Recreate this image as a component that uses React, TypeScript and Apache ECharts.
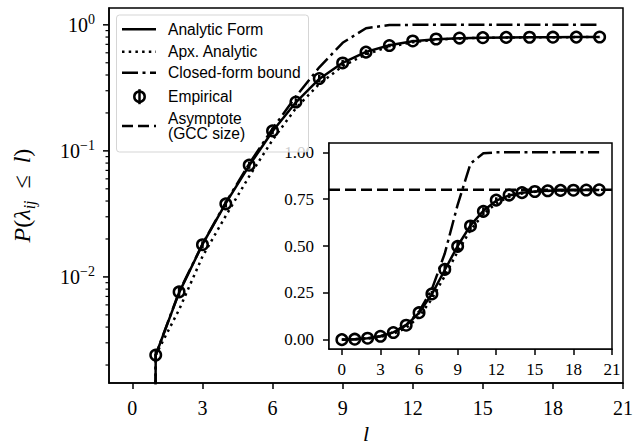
import React, { useEffect, useRef } from 'react';
import * as echarts from 'echarts';

// ---------------- data ----------------
const L = [0, 1, 2, 3, 4, 5, 6, 7, 8, 9, 10, 11, 12, 13, 14, 15, 16, 17, 18, 19, 20];
const analytic = [0, 0.0024, 0.0075, 0.0181, 0.0385, 0.0765, 0.143, 0.243, 0.372, 0.5, 0.61, 0.688, 0.742, 0.77, 0.784, 0.791, 0.795, 0.797, 0.798, 0.799, 0.799];
const apxAnalytic = [0, 0.0024, 0.0055, 0.0145, 0.0306, 0.0627, 0.122, 0.218, 0.34, 0.47, 0.585, 0.67, 0.728, 0.762, 0.78, 0.789, 0.794, 0.796, 0.798, 0.799, 0.799];
const closedFormBound = [0, 0.0024, 0.0076, 0.0182, 0.039, 0.079, 0.15, 0.27, 0.46, 0.72, 0.94, 0.995, 1, 1, 1, 1, 1, 1, 1, 1, 1];
const empirical = [0, 0.0024, 0.0076, 0.018, 0.038, 0.077, 0.144, 0.244, 0.375, 0.498, 0.607, 0.685, 0.745, 0.772, 0.785, 0.791, 0.795, 0.797, 0.798, 0.799, 0.8];
const empiricalErr = [0, 0.0002, 0.0006, 0.0012, 0.0025, 0.005, 0.009, 0.016, 0.025, 0.03, 0.03, 0.022, 0.015, 0.01, 0.006, 0.004, 0.003, 0.002, 0.002, 0.001, 0.001];
const gccSize = 0.8;
const xRange = [-1, 21];
const xTicks = [0, 3, 6, 9, 12, 15, 18, 21];
const logTicks = [0.01, 0.1, 1];
const logMinorTicks = [0.002, 0.003, 0.004, 0.005, 0.006, 0.007, 0.008, 0.009, 0.02, 0.03, 0.04, 0.05, 0.06, 0.07, 0.08, 0.09, 0.2, 0.3, 0.4, 0.5, 0.6, 0.7, 0.8, 0.9];
const insetYTicks = [0, 0.25, 0.5, 0.75, 1.0];
const legendNames = ['Analytic Form', 'Apx. Analytic', 'Closed-form bound', 'Empirical', 'Asymptote\n(GCC size)'];

// ---------------- styles ----------------
const SERIF = "'Liberation Serif', 'DejaVu Serif', serif";
const SANS = "'Liberation Sans', Arial, sans-serif";
const LW = 2.5;
const DOTTED = [2.5, 4.2];
const DASHDOT = [16, 4.5, 3, 4.5];
const DASHED = [11, 5];
const MAJOR_LEN = 6;
const MINOR_LEN = 3.5;

const logFloor = (v: number) => (v > 0 ? v : 1e-30);

function lineSeries(name: string, vals: number[], dash: any, xi: number, yi: number, log: boolean) {
  return {
    name,
    type: 'line',
    xAxisIndex: xi,
    yAxisIndex: yi,
    data: L.map((l, i) => [l, log ? logFloor(vals[i]) : vals[i]]),
    showSymbol: false,
    symbol: 'none',
    clip: true,
    lineStyle: { color: '#000', width: LW, type: dash, cap: 'butt' },
    z: 3,
  };
}

function errSeries(xi: number, yi: number, log: boolean) {
  const d = L.map((l, i) => [l, empirical[i], empiricalErr[i]]).filter((p) => !log || p[1] > 0);
  return {
    type: 'custom',
    xAxisIndex: xi,
    yAxisIndex: yi,
    data: d,
    encode: { x: 0, y: 1 },
    clip: true,
    z: 4,
    renderItem: (params: any, api: any) => {
      const x = api.value(0);
      const y = api.value(1);
      const e = api.value(2);
      const p1 = api.coord([x, y - e]);
      const p2 = api.coord([x, y + e]);
      return {
        type: 'line',
        shape: { x1: p1[0], y1: p1[1], x2: p2[0], y2: p2[1] },
        style: { stroke: '#000', lineWidth: LW },
      };
    },
  };
}

function scatterSeries(xi: number, yi: number, log: boolean) {
  return {
    name: 'Empirical',
    type: 'scatter',
    xAxisIndex: xi,
    yAxisIndex: yi,
    data: L.map((l, i) => [l, empirical[i]]).filter((p) => !log || p[1] > 0),
    symbol: 'circle',
    symbolSize: 10.5,
    clip: true,
    itemStyle: { color: 'rgba(0,0,0,0)', borderColor: '#000', borderWidth: LW, opacity: 1 },
    z: 5,
  };
}

// log-axis ticks (major + minor), placed through the axis scale
function logTickSeries() {
  const d = [
    ...logTicks.map((v) => [xRange[0], v, MAJOR_LEN]),
    ...logMinorTicks.map((v) => [xRange[0], v, MINOR_LEN]),
  ];
  return {
    type: 'custom',
    xAxisIndex: 0,
    yAxisIndex: 0,
    data: d,
    encode: { x: 0, y: 1 },
    clip: false,
    silent: true,
    z: 6,
    renderItem: (params: any, api: any) => {
      const c = api.coord([api.value(0), api.value(1)]);
      const len = api.value(2);
      return {
        type: 'line',
        shape: { x1: c[0] - len, y1: c[1], x2: c[0], y2: c[1] },
        style: { stroke: '#000', lineWidth: len > 5 ? 1.5 : 1.2 },
      };
    },
  };
}

function buildLegend() {
  const rowsY = [29.3, 51.7, 72.7, 96.7, 126];
  const dashes: any[] = ['solid', DOTTED, DASHDOT, null, DASHED];
  const els: any[] = [
    {
      type: 'rect',
      shape: { x: 116.5, y: 15, width: 192, height: 137, r: 3 },
      style: { fill: 'rgba(255,255,255,0.8)', stroke: '#d5d5d5', lineWidth: 1 },
      z: 1,
    },
  ];
  legendNames.forEach((name, i) => {
    const y = rowsY[i];
    if (dashes[i] === null) {
      els.push({ type: 'circle', shape: { cx: 139.5, cy: y, r: 5.2 }, style: { fill: 'none', stroke: '#000', lineWidth: LW }, z: 6 });
      els.push({ type: 'line', shape: { x1: 139.5, y1: y - 7.5, x2: 139.5, y2: y + 7.5 }, style: { stroke: '#000', lineWidth: LW }, z: 6 });
    } else {
      els.push({
        type: 'line',
        shape: { x1: 122, y1: y, x2: 156, y2: y },
        style: { stroke: '#000', lineWidth: LW, lineDash: dashes[i] === 'solid' ? null : dashes[i] },
        z: 6,
      });
    }
    els.push({
      type: 'text',
      x: 168,
      y,
      z: 6,
      style: {
        text: name,
        fill: '#000',
        font: `15.6px ${SANS}`,
        fontSize: 15.6,
        fontFamily: SANS,
        lineHeight: 15.3,
        textVerticalAlign: 'middle',
        verticalAlign: 'middle',
        textAlign: 'left',
        align: 'left',
      },
    });
  });
  return els;
}

function supLabel(v: number) {
  const e = Math.round(Math.log10(v));
  return `{b|10}{e|${e < 0 ? '\u2212' + Math.abs(e) : e}}`;
}

export default function App() {
  const ref = useRef<HTMLDivElement>(null);
  useEffect(() => {
    document.body.style.margin = '0';
    const chart = echarts.init(ref.current!, null, { renderer: 'svg' });
    const tickStyle = { color: '#000', width: 1.5 };
    const option: any = {
      animation: false,
      backgroundColor: '#fff',
      grid: [
        { left: 109, top: 8, width: 514, height: 375, show: true, borderColor: '#000', borderWidth: 1.5, backgroundColor: 'rgba(0,0,0,0)', containLabel: false, outerBoundsMode: 'none' },
        { left: 329, top: 143, width: 283, height: 206, show: true, borderColor: '#000', borderWidth: 1.5, backgroundColor: '#fff', containLabel: false, outerBoundsMode: 'none', z: 2 },
      ],
      xAxis: [
        {
          gridIndex: 0, type: 'value', min: xRange[0], max: xRange[1],
          axisLine: { show: true, onZero: false, lineStyle: tickStyle },
          splitLine: { show: false },
          axisTick: { show: true, customValues: xTicks, length: MAJOR_LEN, lineStyle: tickStyle },
          axisLabel: { customValues: xTicks, color: '#000', fontFamily: SERIF, fontSize: 20, margin: 15 },
          name: 'l', nameLocation: 'middle', nameGap: 39,
          nameTextStyle: { color: '#000', fontFamily: SERIF, fontStyle: 'italic', fontSize: 22 },
        },
        {
          gridIndex: 1, type: 'value', min: xRange[0], max: xRange[1],
          axisLine: { show: true, onZero: false, lineStyle: tickStyle },
          splitLine: { show: false },
          axisTick: { show: true, customValues: xTicks, length: MAJOR_LEN, lineStyle: tickStyle },
          axisLabel: { customValues: xTicks, color: '#000', fontFamily: SERIF, fontSize: 17, margin: 12 },
        },
      ],
      yAxis: [
        {
          gridIndex: 0, type: 'log', logBase: 10, min: 0.00144, max: 1.36,
          axisLine: { show: true, onZero: false, lineStyle: tickStyle },
          splitLine: { show: false },
          minorTick: { show: false },
          axisTick: { show: false },
          axisLabel: {
            customValues: logTicks, margin: 14, formatter: (v: number) => supLabel(v),
            rich: {
              b: { fontFamily: SERIF, fontSize: 20, color: '#000', lineHeight: 24 },
              e: { fontFamily: SERIF, fontSize: 14, color: '#000', verticalAlign: 'top' },
            },
          },
          name: '{i|P}{r|(}{i|λ}{s|ij}{r|  ≤  }{i|l}{r|)}',
          nameLocation: 'middle', nameGap: 72,
          nameTextStyle: {
            color: '#000', fontFamily: SERIF, fontSize: 24,
            rich: {
              i: { fontFamily: SERIF, fontStyle: 'italic', fontSize: 24, color: '#000', lineHeight: 30 },
              r: { fontFamily: SERIF, fontSize: 24, color: '#000', lineHeight: 30 },
              s: { fontFamily: SERIF, fontStyle: 'italic', fontSize: 16, color: '#000', verticalAlign: 'bottom' },
            },
          },
        },
        {
          gridIndex: 1, type: 'value', min: -0.05, max: 1.05,
          axisLine: { show: true, onZero: false, lineStyle: tickStyle },
          splitLine: { show: false },
          axisTick: { show: true, customValues: insetYTicks, length: MAJOR_LEN, lineStyle: tickStyle },
          axisLabel: { customValues: insetYTicks, color: '#000', fontFamily: SERIF, fontSize: 17, margin: 15, formatter: (v: number) => v.toFixed(2) },
        },
      ],
      series: [
        lineSeries('Analytic Form', analytic, 'solid', 0, 0, true),
        lineSeries('Apx. Analytic', apxAnalytic, DOTTED, 0, 0, true),
        lineSeries('Closed-form bound', closedFormBound, DASHDOT, 0, 0, true),
        errSeries(0, 0, true),
        scatterSeries(0, 0, true),
        logTickSeries(),
        {
          name: 'Asymptote (GCC size)', type: 'line', xAxisIndex: 1, yAxisIndex: 1,
          data: [[xRange[0], gccSize], [xRange[1], gccSize]],
          showSymbol: false, symbol: 'none',
          lineStyle: { color: '#000', width: LW, type: DASHED, cap: 'butt' }, z: 3,
        },
        lineSeries('Analytic Form', analytic, 'solid', 1, 1, false),
        lineSeries('Apx. Analytic', apxAnalytic, DOTTED, 1, 1, false),
        lineSeries('Closed-form bound', closedFormBound, DASHDOT, 1, 1, false),
        errSeries(1, 1, false),
        scatterSeries(1, 1, false),
      ],
      graphic: buildLegend(),
    };
    chart.setOption(option);
    return () => chart.dispose();
  }, []);
  return <div ref={ref} style={{ width: 641, height: 445 }} />;
}
